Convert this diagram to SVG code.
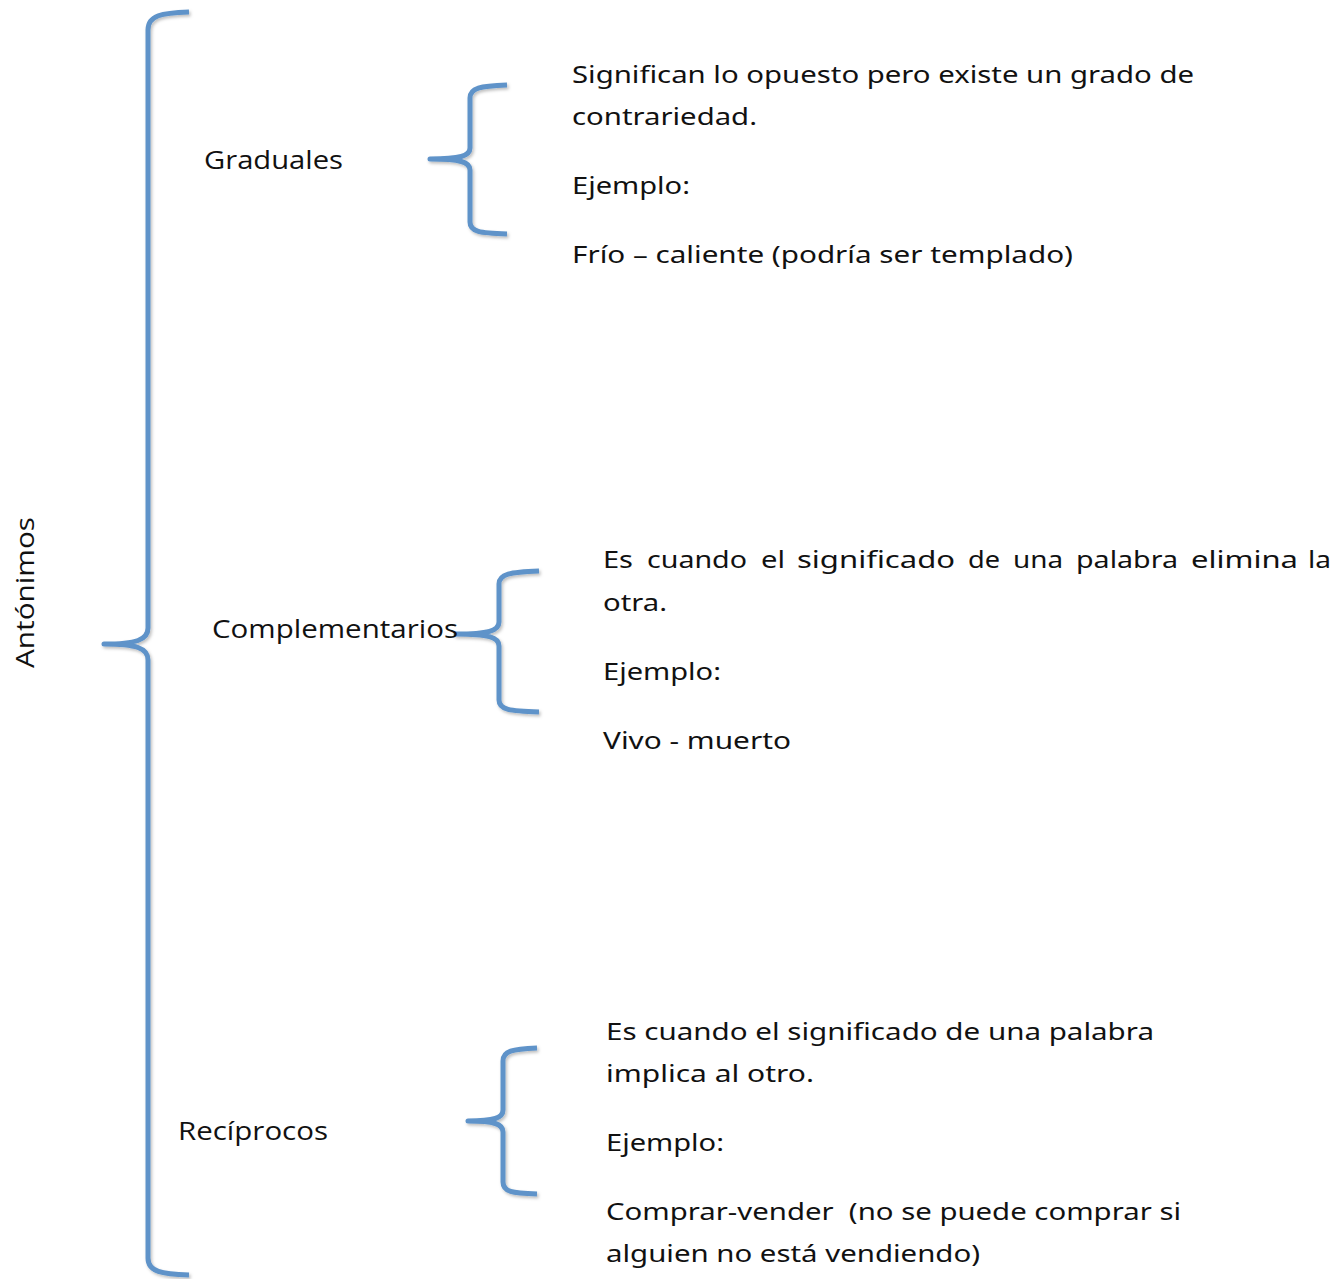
<svg xmlns="http://www.w3.org/2000/svg" width="1343" height="1279" viewBox="0 0 1343 1279">
<defs>
<filter id="sh" x="-20%" y="-5%" width="140%" height="110%">
<feDropShadow dx="1.5" dy="2" stdDeviation="1.5" flood-color="#000" flood-opacity="0.25"/>
</filter>
</defs>
<style>
.br{fill:none;stroke:#5F93C9;stroke-width:5;stroke-linecap:butt;stroke-linejoin:round;filter:url(#sh)}
.t{font-family:"Noto Sans","Open Sans","Liberation Sans",sans-serif;font-size:24px;fill:#111}
.lab{font-family:"Open Sans","Liberation Sans",sans-serif;font-size:25px;fill:#111}
</style>
<rect width="1343" height="1279" fill="#fff"/>
<g id="connectors">
<path class="br" d="M189,12 C162,13 148,15 148,30 L148,628 C148,640 136,644 104,644 C136,644 148,648 148,660 L148,1258 C148,1272 162,1274 189,1275"/>
<path class="br" d="M507,85 C480,86 470,88 470,98 L470,148 C470,156 460,159 430,159 C460,159 470,162 470,170 L470,222 C470,232 480,233 507,234"/>
<path class="br" d="M539,571 C510,572 499,574 499,584 L499,622 C499,631 488,634 456,634 C488,634 499,637 499,646 L499,700 C499,710 510,711 539,712"/>
<path class="br" d="M537,1048 C512,1049 503,1051 503,1061 L503,1110 C503,1118 494,1121 468,1121 C494,1121 503,1124 503,1132 L503,1182 C503,1192 512,1193 537,1194"/>
</g>
<g id="antonimos">
<text class="lab" transform="translate(34,668) rotate(-90)" textLength="151" lengthAdjust="spacingAndGlyphs">Antónimos</text>
</g>
<g id="graduales">
<text class="lab" x="204" y="169" textLength="139" lengthAdjust="spacingAndGlyphs">Graduales</text>
</g>
<g id="graduales-desc">
<text class="t" x="572" y="83" textLength="622" lengthAdjust="spacingAndGlyphs">Significan lo opuesto pero existe un grado de</text>
<text class="t" x="572" y="125" textLength="185" lengthAdjust="spacingAndGlyphs">contrariedad.</text>
<text class="t" x="572" y="194" textLength="118" lengthAdjust="spacingAndGlyphs">Ejemplo:</text>
<text class="t" x="572" y="263" textLength="501" lengthAdjust="spacingAndGlyphs">Frío – caliente (podría ser templado)</text>
</g>
<g id="complementarios">
<text class="lab" x="212" y="638" textLength="246" lengthAdjust="spacingAndGlyphs">Complementarios</text>
</g>
<g id="complementarios-desc">
<text class="t" y="568"><tspan x="603" textLength="30" lengthAdjust="spacingAndGlyphs">Es</tspan><tspan x="647" textLength="100" lengthAdjust="spacingAndGlyphs">cuando</tspan><tspan x="761" textLength="24" lengthAdjust="spacingAndGlyphs">el</tspan><tspan x="797" textLength="158" lengthAdjust="spacingAndGlyphs">significado</tspan><tspan x="968" textLength="32" lengthAdjust="spacingAndGlyphs">de</tspan><tspan x="1013" textLength="50" lengthAdjust="spacingAndGlyphs">una</tspan><tspan x="1076" textLength="102" lengthAdjust="spacingAndGlyphs">palabra</tspan><tspan x="1191" textLength="107" lengthAdjust="spacingAndGlyphs">elimina</tspan><tspan x="1308" textLength="23" lengthAdjust="spacingAndGlyphs">la</tspan></text>
<text class="t" x="603" y="611" textLength="64" lengthAdjust="spacingAndGlyphs">otra.</text>
<text class="t" x="603" y="680" textLength="118" lengthAdjust="spacingAndGlyphs">Ejemplo:</text>
<text class="t" x="603" y="749" textLength="188" lengthAdjust="spacingAndGlyphs">Vivo - muerto</text>
</g>
<g id="reciprocos">
<text class="lab" x="178" y="1140" textLength="150" lengthAdjust="spacingAndGlyphs">Recíprocos</text>
</g>
<g id="reciprocos-desc">
<text class="t" x="606" y="1040" textLength="548" lengthAdjust="spacingAndGlyphs">Es cuando el significado de una palabra</text>
<text class="t" x="606" y="1082" textLength="208" lengthAdjust="spacingAndGlyphs">implica al otro.</text>
<text class="t" x="606" y="1151" textLength="118" lengthAdjust="spacingAndGlyphs">Ejemplo:</text>
<text class="t" x="606" y="1220" textLength="575" lengthAdjust="spacingAndGlyphs" xml:space="preserve">Comprar-vender  (no se puede comprar si</text>
<text class="t" x="606" y="1262" textLength="374" lengthAdjust="spacingAndGlyphs">alguien no está vendiendo)</text>
</g>
</svg>
